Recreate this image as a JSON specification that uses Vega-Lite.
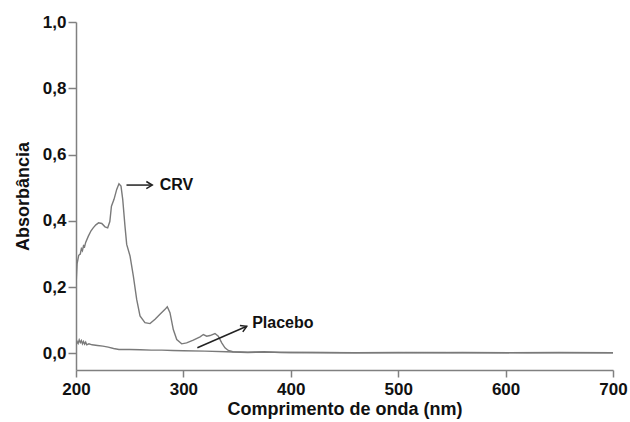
{
  "$schema": "https://vega.github.io/schema/vega-lite/v6.json",
  "width": 537,
  "height": 348,
  "autosize": "none",
  "padding": {"left": 76, "top": 22, "right": 17, "bottom": 52},
  "background": "white",
  "config": {"view": {"stroke": null}, "font": "Liberation Sans"},
  "datasets": {
    "spectra": [
      {"series": "CRV", "nm": 200, "abs": 0.204},
      {"series": "CRV", "nm": 201, "abs": 0.27},
      {"series": "CRV", "nm": 202.5, "abs": 0.296},
      {"series": "CRV", "nm": 204, "abs": 0.3},
      {"series": "CRV", "nm": 205, "abs": 0.316},
      {"series": "CRV", "nm": 206, "abs": 0.31},
      {"series": "CRV", "nm": 207, "abs": 0.325},
      {"series": "CRV", "nm": 208, "abs": 0.322},
      {"series": "CRV", "nm": 209, "abs": 0.335},
      {"series": "CRV", "nm": 211.5, "abs": 0.354},
      {"series": "CRV", "nm": 214, "abs": 0.37},
      {"series": "CRV", "nm": 216, "abs": 0.379},
      {"series": "CRV", "nm": 218.5, "abs": 0.388},
      {"series": "CRV", "nm": 221, "abs": 0.394},
      {"series": "CRV", "nm": 224, "abs": 0.392},
      {"series": "CRV", "nm": 227, "abs": 0.382},
      {"series": "CRV", "nm": 229.5, "abs": 0.379},
      {"series": "CRV", "nm": 231.5, "abs": 0.398},
      {"series": "CRV", "nm": 233, "abs": 0.444},
      {"series": "CRV", "nm": 235.4, "abs": 0.465},
      {"series": "CRV", "nm": 237.9, "abs": 0.495},
      {"series": "CRV", "nm": 240, "abs": 0.512},
      {"series": "CRV", "nm": 241.9, "abs": 0.505},
      {"series": "CRV", "nm": 243.5, "abs": 0.465},
      {"series": "CRV", "nm": 245.6, "abs": 0.384},
      {"series": "CRV", "nm": 247.2, "abs": 0.329},
      {"series": "CRV", "nm": 250.3, "abs": 0.294},
      {"series": "CRV", "nm": 253.4, "abs": 0.233},
      {"series": "CRV", "nm": 256.5, "abs": 0.163},
      {"series": "CRV", "nm": 259.6, "abs": 0.113},
      {"series": "CRV", "nm": 264.2, "abs": 0.093},
      {"series": "CRV", "nm": 268.9, "abs": 0.09},
      {"series": "CRV", "nm": 273.6, "abs": 0.103},
      {"series": "CRV", "nm": 278.2, "abs": 0.118},
      {"series": "CRV", "nm": 282.9, "abs": 0.133},
      {"series": "CRV", "nm": 285, "abs": 0.141},
      {"series": "CRV", "nm": 287.5, "abs": 0.123},
      {"series": "CRV", "nm": 290.6, "abs": 0.072},
      {"series": "CRV", "nm": 293.8, "abs": 0.042},
      {"series": "CRV", "nm": 298.4, "abs": 0.029},
      {"series": "CRV", "nm": 303, "abs": 0.032},
      {"series": "CRV", "nm": 309.2, "abs": 0.04},
      {"series": "CRV", "nm": 315.5, "abs": 0.05},
      {"series": "CRV", "nm": 318.6, "abs": 0.057},
      {"series": "CRV", "nm": 321.7, "abs": 0.052},
      {"series": "CRV", "nm": 324.8, "abs": 0.054},
      {"series": "CRV", "nm": 329.4, "abs": 0.06},
      {"series": "CRV", "nm": 332.5, "abs": 0.052},
      {"series": "CRV", "nm": 335.7, "abs": 0.032},
      {"series": "CRV", "nm": 338.7, "abs": 0.017},
      {"series": "CRV", "nm": 341.8, "abs": 0.009},
      {"series": "CRV", "nm": 346, "abs": 0.005},
      {"series": "CRV", "nm": 360, "abs": 0.004},
      {"series": "CRV", "nm": 375, "abs": 0.005},
      {"series": "CRV", "nm": 390, "abs": 0.003},
      {"series": "CRV", "nm": 420, "abs": 0.003},
      {"series": "CRV", "nm": 460, "abs": 0.002},
      {"series": "CRV", "nm": 500, "abs": 0.003},
      {"series": "CRV", "nm": 550, "abs": 0.002},
      {"series": "CRV", "nm": 600, "abs": 0.002},
      {"series": "CRV", "nm": 650, "abs": 0.003},
      {"series": "CRV", "nm": 700, "abs": 0.002},
      {"series": "Placebo", "nm": 200, "abs": 0.024},
      {"series": "Placebo", "nm": 201, "abs": 0.036},
      {"series": "Placebo", "nm": 202, "abs": 0.03},
      {"series": "Placebo", "nm": 203, "abs": 0.041},
      {"series": "Placebo", "nm": 204, "abs": 0.033},
      {"series": "Placebo", "nm": 205, "abs": 0.039},
      {"series": "Placebo", "nm": 206, "abs": 0.029},
      {"series": "Placebo", "nm": 207, "abs": 0.036},
      {"series": "Placebo", "nm": 208, "abs": 0.028},
      {"series": "Placebo", "nm": 209, "abs": 0.034},
      {"series": "Placebo", "nm": 210, "abs": 0.026},
      {"series": "Placebo", "nm": 212, "abs": 0.029},
      {"series": "Placebo", "nm": 215, "abs": 0.026},
      {"series": "Placebo", "nm": 220, "abs": 0.024},
      {"series": "Placebo", "nm": 225, "abs": 0.022},
      {"series": "Placebo", "nm": 230, "abs": 0.019},
      {"series": "Placebo", "nm": 235, "abs": 0.015},
      {"series": "Placebo", "nm": 240, "abs": 0.012},
      {"series": "Placebo", "nm": 250, "abs": 0.012},
      {"series": "Placebo", "nm": 260, "abs": 0.011},
      {"series": "Placebo", "nm": 270, "abs": 0.01},
      {"series": "Placebo", "nm": 280, "abs": 0.01},
      {"series": "Placebo", "nm": 290, "abs": 0.009},
      {"series": "Placebo", "nm": 300, "abs": 0.008},
      {"series": "Placebo", "nm": 320, "abs": 0.007},
      {"series": "Placebo", "nm": 340, "abs": 0.005},
      {"series": "Placebo", "nm": 360, "abs": 0.003},
      {"series": "Placebo", "nm": 380, "abs": 0.004},
      {"series": "Placebo", "nm": 400, "abs": 0.003},
      {"series": "Placebo", "nm": 450, "abs": 0.002},
      {"series": "Placebo", "nm": 500, "abs": 0.002},
      {"series": "Placebo", "nm": 560, "abs": 0.003},
      {"series": "Placebo", "nm": 620, "abs": 0.002},
      {"series": "Placebo", "nm": 700, "abs": 0.002}
    ],
    "arrows": [
      {"label": "CRV", "x1": 247, "y1": 0.508, "x2": 271, "y2": 0.508, "angle": 0, "tx": 278, "ty": 0.508},
      {"label": "Placebo", "x1": 313, "y1": 0.017, "x2": 359, "y2": 0.082, "angle": -24, "tx": 364, "ty": 0.092}
    ]
  },
  "layer": [
    {
      "data": {"name": "spectra"},
      "mark": {"type": "line", "strokeWidth": 1.4, "color": "#7a7a7a", "clip": true},
      "encoding": {
        "x": {
          "field": "nm", "type": "quantitative",
          "scale": {"domain": [200, 700], "nice": false, "zero": false},
          "axis": {
            "title": "Comprimento de onda (nm)",
            "values": [200, 300, 400, 500, 600, 700],
            "grid": false,
            "labelFlush": false,
            "domainColor": "#808080", "domainWidth": 1.5,
            "tickColor": "#808080", "tickWidth": 1.5, "tickSize": 7,
            "labelFont": "Liberation Sans", "labelFontWeight": "bold", "labelFontSize": 17, "labelColor": "#111", "labelPadding": 4,
            "titleFont": "Liberation Sans", "titleFontWeight": "bold", "titleFontSize": 18, "titleColor": "#111", "titlePadding": 3
          }
        },
        "y": {
          "field": "abs", "type": "quantitative",
          "scale": {"domain": [-0.05, 1.0], "nice": false, "zero": false},
          "axis": {
            "title": "Absorbância",
            "values": [0, 0.2, 0.4, 0.6, 0.8, 1.0],
            "labelExpr": "replace(format(datum.value, '.1f'), '.', ',')",
            "grid": false,
            "labelFlush": false,
            "domainColor": "#808080", "domainWidth": 1.5,
            "tickColor": "#808080", "tickWidth": 1.5, "tickSize": 8,
            "labelFont": "Liberation Sans", "labelFontWeight": "bold", "labelFontSize": 17, "labelColor": "#111", "labelPadding": 2,
            "titleFont": "Liberation Sans", "titleFontWeight": "bold", "titleFontSize": 18, "titleColor": "#111", "titlePadding": 10
          }
        },
        "detail": {"field": "series"}
      }
    },
    {
      "data": {"name": "arrows"},
      "mark": {"type": "rule", "color": "#222", "strokeWidth": 1.5},
      "encoding": {
        "x": {"field": "x1", "type": "quantitative"},
        "y": {"field": "y1", "type": "quantitative"},
        "x2": {"field": "x2"},
        "y2": {"field": "y2"}
      }
    },
    {
      "data": {"name": "arrows"},
      "mark": {"type": "point", "shape": "M -1 -0.6 L 0 0 L -1 0.6", "filled": false, "stroke": "#222", "strokeWidth": 1.5, "size": 140, "opacity": 1},
      "encoding": {
        "x": {"field": "x2", "type": "quantitative"},
        "y": {"field": "y2", "type": "quantitative"},
        "angle": {"field": "angle", "type": "quantitative", "scale": null}
      }
    },
    {
      "data": {"name": "arrows"},
      "mark": {"type": "text", "align": "left", "baseline": "middle", "font": "Liberation Sans", "fontWeight": "bold", "fontSize": 16, "color": "#111"},
      "encoding": {
        "x": {"field": "tx", "type": "quantitative"},
        "y": {"field": "ty", "type": "quantitative"},
        "text": {"field": "label"}
      }
    }
  ]
}
